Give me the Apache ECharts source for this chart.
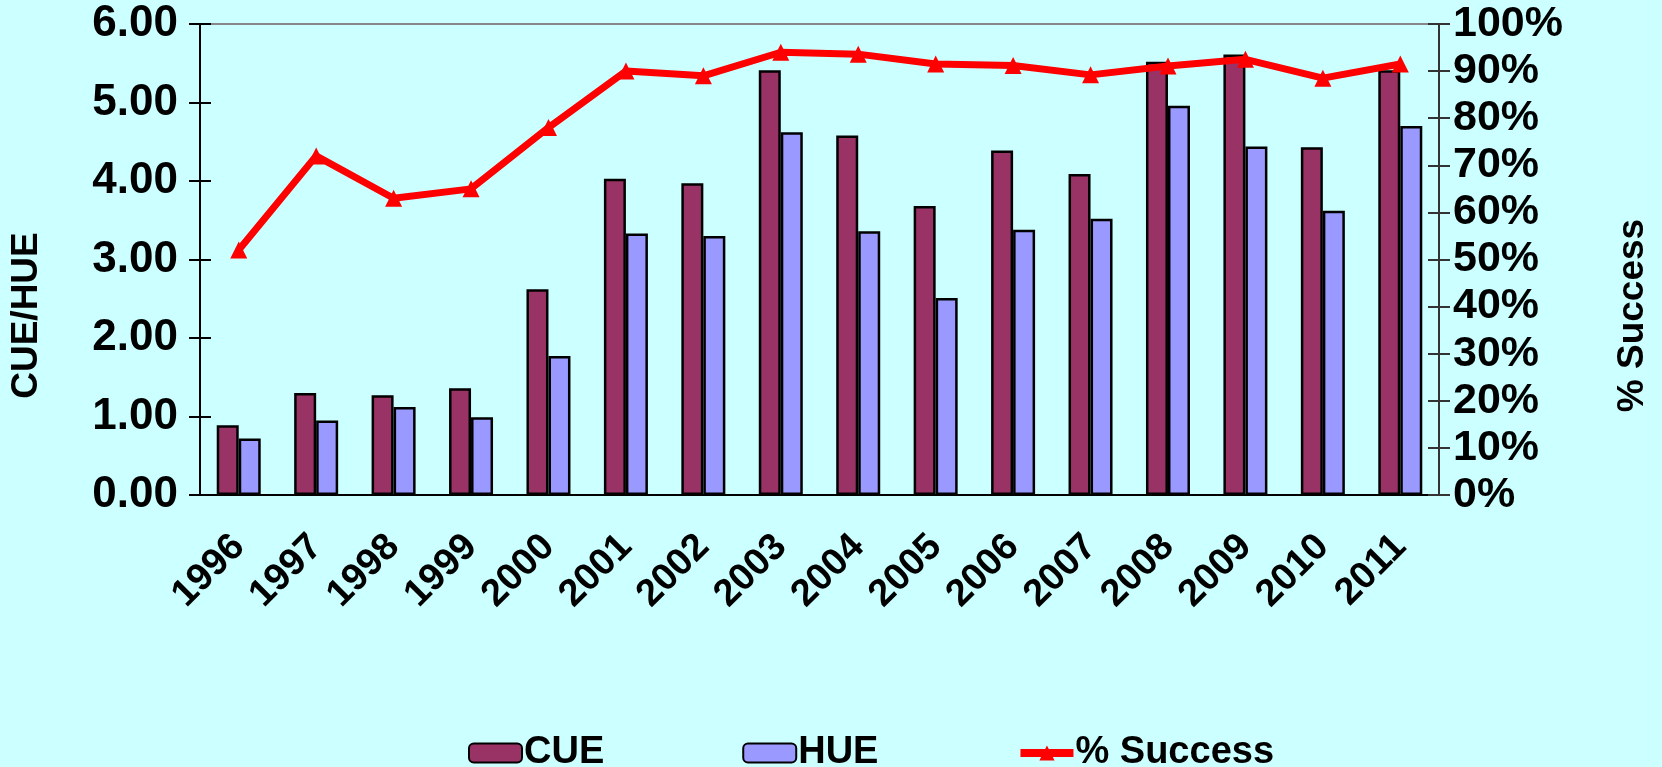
<!DOCTYPE html>
<html>
<head>
<meta charset="utf-8">
<script src="https://cdn.jsdelivr.net/npm/echarts@6/dist/echarts.min.js"></script>
<style>
  html, body { margin: 0; padding: 0; background: #ccffff; }
  #chart { width: 1662px; height: 767px; }
</style>
</head>
<body>
<div id="chart"></div>
<script>
// data
var years = ['1996', '1997', '1998', '1999', '2000', '2001', '2002', '2003',
             '2004', '2005', '2006', '2007', '2008', '2009', '2010', '2011'];
var cue = [0.89, 1.30, 1.27, 1.36, 2.62, 4.03, 3.97, 5.41, 4.58, 3.68, 4.39, 4.09, 5.52, 5.61, 4.43, 5.41];
var hue = [0.72, 0.95, 1.12, 0.99, 1.77, 3.33, 3.30, 4.62, 3.36, 2.51, 3.38, 3.52, 4.96, 4.44, 3.62, 4.70];
var success = [0.52, 0.72, 0.63, 0.65, 0.78, 0.90, 0.89, 0.94, 0.936, 0.915, 0.912, 0.892, 0.911, 0.925, 0.885, 0.915];

var font = 'Liberation Sans, Arial, sans-serif';

var chart = echarts.init(document.getElementById('chart'));
chart.setOption({
    backgroundColor: '#ccffff',
    animation: false,
    grid: {
        left: 196, right: 223, top: 24, bottom: 272,
        show: true,
        borderColor: '#888888',
        borderWidth: 2,
        backgroundColor: 'transparent'
    },
    legend: {
        left: 463,
        top: 729,
        itemWidth: 53,
        itemHeight: 19,
        itemGap: 138,
        textStyle: { fontFamily: font, fontWeight: 'bold', fontSize: 38, color: '#000', padding: [0, 0, 0, -3] },
        data: ['CUE', 'HUE', {
            name: '% Success',
            lineStyle: { width: 8, color: '#ff0000' }
        }]
    },
    xAxis: [{
        type: 'category',
        data: years,
        axisLine: { lineStyle: { color: '#000', width: 2 } },
        axisTick: { length: 11, lineStyle: { color: '#000', width: 2 } },
        axisLabel: {
            interval: 0, rotate: 45, margin: 46,
            padding: [44, 0, 0, 0],
            fontFamily: font, fontWeight: 'bold', fontSize: 38, color: '#000'
        }
    }, {
        // inner half of the crossing ticks
        type: 'category',
        data: years,
        position: 'bottom',
        axisLine: { show: false },
        axisTick: { inside: true, length: 11, lineStyle: { color: '#000', width: 2 } },
        axisLabel: { show: false }
    }],
    yAxis: [{
        type: 'value',
        min: 0, max: 6, interval: 1,
        name: 'CUE/HUE',
        nameLocation: 'middle',
        nameRotate: 90,
        nameGap: 155,
        nameTextStyle: { fontFamily: font, fontWeight: 'bold', fontSize: 37, color: '#000', padding: [0, 112, 0, 0] },
        axisLine: { show: true, lineStyle: { color: '#000', width: 2 } },
        axisTick: { show: true, length: 11, lineStyle: { color: '#000', width: 2 } },
        splitLine: { show: false },
        axisLabel: {
            margin: 22,
            fontFamily: font, fontWeight: 'bold', fontSize: 44, color: '#000',
            formatter: function (v) { return v.toFixed(2); }
        }
    }, {
        type: 'value',
        min: 0, max: 1, interval: 0.1,
        position: 'right',
        name: '% Success',
        nameLocation: 'middle',
        nameRotate: 90,
        nameGap: 175,
        nameTextStyle: { fontFamily: font, fontWeight: 'bold', fontSize: 37, color: '#000', padding: [0, 112, 0, 0] },
        axisLine: { show: true, lineStyle: { color: '#333', width: 2 } },
        axisTick: { show: true, length: 11, lineStyle: { color: '#333', width: 2 } },
        splitLine: { show: false },
        axisLabel: {
            margin: 14,
            fontFamily: font, fontWeight: 'bold', fontSize: 43, color: '#000',
            formatter: function (v) { return Math.round(v * 100) + '%'; }
        }
    }, {
        type: 'value',
        min: 0, max: 6, interval: 1,
        position: 'left',
        axisLine: { show: false },
        axisTick: { show: true, inside: true, length: 11, lineStyle: { color: '#000', width: 2 } },
        splitLine: { show: false },
        axisLabel: { show: false }
    }, {
        type: 'value',
        min: 0, max: 1, interval: 0.1,
        position: 'right',
        axisLine: { show: false },
        axisTick: { show: true, inside: true, length: 11, lineStyle: { color: '#333', width: 2 } },
        splitLine: { show: false },
        axisLabel: { show: false }
    }],
    series: [{
        name: 'CUE',
        type: 'bar',
        yAxisIndex: 0,
        barWidth: 22,
        barGap: '0%',
        itemStyle: { color: '#993366', borderColor: '#000', borderWidth: 2.5 },
        data: cue
    }, {
        name: 'HUE',
        type: 'bar',
        yAxisIndex: 0,
        barWidth: 22,
        barGap: '0%',
        itemStyle: { color: '#9999ff', borderColor: '#000', borderWidth: 2.5 },
        data: hue
    }, {
        name: '% Success',
        type: 'line',
        yAxisIndex: 1,
        symbol: 'triangle',
        symbolSize: 17,
        lineStyle: { color: '#ff0000', width: 7 },
        itemStyle: { color: '#ff0000' },
        data: success
    }]
});
</script>
</body>
</html>
